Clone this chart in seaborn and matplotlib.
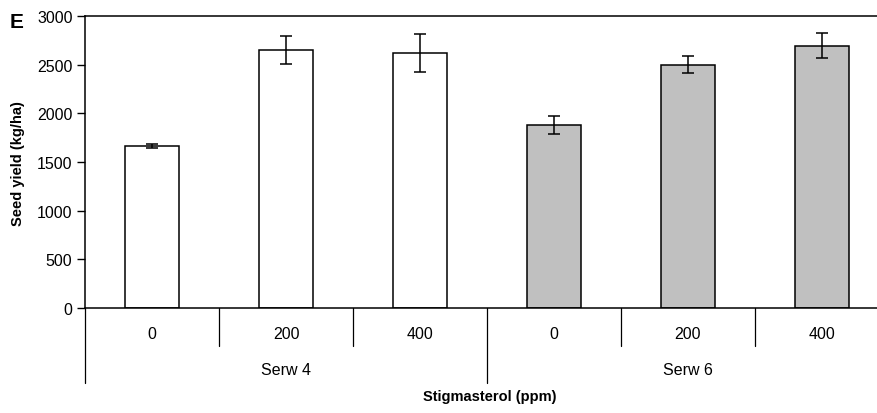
import matplotlib
matplotlib.use("Agg")
import matplotlib.pyplot as plt
import seaborn as sns
import pandas as pd

# ---- data ----
doses = ["0", "200", "400", "0", "200", "400"]
groups = ["Serw 4", "Serw 4", "Serw 4", "Serw 6", "Serw 6", "Serw 6"]
yields = [1660, 2650, 2615, 1880, 2500, 2695]
errors = [20, 140, 195, 95, 87, 127]
group_names = ["Serw 4", "Serw 6"]
group_colors = ["#FFFFFF", "#C0C0C0"]

sns.set_theme(style="white")
plt.rcParams["font.family"] = ["Liberation Sans", "DejaVu Sans"]
plt.rcParams["text.color"] = "black"
plt.rcParams["axes.labelcolor"] = "black"
plt.rcParams["xtick.color"] = "black"
plt.rcParams["ytick.color"] = "black"

df = pd.DataFrame({
    "pos": [f"{g}-{d}" for g, d in zip(groups, doses)],
    "dose": doses,
    "group": groups,
    "yield": yields,
})

fig = plt.figure(figsize=(8.77, 4.14), dpi=100)
ax = fig.add_axes([85 / 877, 1 - 309 / 414, 804 / 877, 292 / 414])

sns.barplot(data=df, x="pos", y="yield", hue="group", palette=group_colors,
            dodge=False, width=0.41, edgecolor="black", linewidth=1.1,
            legend=False, ax=ax)

ax.errorbar(range(len(yields)), yields, yerr=errors, fmt="none",
            ecolor="black", elinewidth=1.1, capsize=4.3, capthick=1.1, zorder=5)

ax.set_xlim(-0.5, len(yields) - 0.5)
ax.set_ylim(0, 3000)
ax.set_yticks(range(0, 3001, 500))
ax.tick_params(axis="y", which="both", left=True, length=6, width=1,
               labelsize=11.5, colors="black", labelcolor="black", pad=3)
ax.set_xticks([])
ax.set_xlabel("")
ax.set_ylabel("")

for s in ["left", "top", "bottom"]:
    ax.spines[s].set_visible(True)
    ax.spines[s].set_color("black")
    ax.spines[s].set_linewidth(1.1)
ax.spines["right"].set_visible(False)

tr = ax.get_xaxis_transform()
# separators between doses
for x in [0.5, 1.5, 3.5, 4.5]:
    ax.plot([x, x], [0, -0.130], transform=tr, color="black", lw=0.9, clip_on=False)
# separators between groups
for x in [-0.5, 2.5, 5.5]:
    ax.plot([x, x], [0, -0.257], transform=tr, color="black", lw=0.9, clip_on=False)

for i, d in enumerate(doses):
    ax.text(i, -0.089, d, transform=tr, ha="center", va="center",
            fontsize=11.5, color="black")
for j, g in enumerate(group_names):
    ax.text(1 + 3 * j, -0.212, g, transform=tr, ha="center", va="center",
            fontsize=11.5, color="black")

fig.text(490 / 877, 1 - 397 / 414, "Stigmasterol (ppm)", ha="center", va="center",
         fontsize=10.5, fontweight="bold", color="black")
fig.text(18 / 877, 1 - 164 / 414, "Seed yield (kg/ha)", ha="center", va="center",
         rotation=90, fontsize=10.5, fontweight="bold", color="black")
fig.text(10 / 877, 1 - 22 / 414, "E", ha="left", va="center",
         fontsize=15, fontweight="bold", color="black")

fig.savefig("out.png", dpi=100)
